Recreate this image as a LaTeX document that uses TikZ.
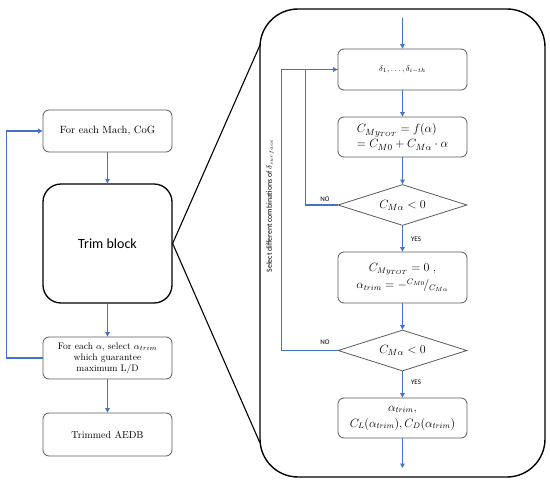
\documentclass[tikz,border=0pt]{standalone}
\usepackage{fontspec}
\setsansfont{Carlito}
\usetikzlibrary{shapes.geometric,arrows.meta}
\definecolor{flowblue}{RGB}{68,114,196}
\definecolor{boxgray}{RGB}{90,90,90}
\begin{document}
\begin{tikzpicture}[x=1pt,y=-1pt,
  box/.style={draw=boxgray,line width=0.8pt,rounded corners=6pt,align=center,inner sep=2pt,minimum width=129pt},
  cond/.style={draw=boxgray,line width=0.8pt,diamond,aspect=3.2,inner sep=0pt,minimum width=129pt,minimum height=41pt},
  flow/.style={draw=flowblue,line width=1.1pt,-{Triangle[length=4.5pt,width=4.5pt]}},
  line/.style={draw=flowblue,line width=1.1pt},
  lbl/.style={font=\sffamily\fontsize{7}{8}\selectfont,inner sep=0pt}]
\useasboundingbox (0,0) rectangle (550,485);
% left column
\node[box,minimum height=42pt,font=\fontsize{10.5}{12}\selectfont] (mach) at (107.5,131) {For each Mach, CoG};
\node[draw=black,line width=1.3pt,rounded corners=18pt,minimum width=129pt,minimum height=119pt,font=\sffamily\fontsize{14}{16}\selectfont] (trim) at (107.5,243.5) {Trim block};
\node[box,minimum height=42pt,font=\fontsize{9.5}{11}\selectfont] (alpha) at (107.5,358) {For each $\alpha$, select $\alpha_{trim}$\\which guarantee\\maximum L/D};
\node[box,minimum height=43pt,font=\fontsize{10}{12}\selectfont] (aedb) at (107.5,434.5) {Trimmed AEDB};
\draw[flow] (mach.south) -- (trim.north);
\draw[flow] (trim.south) -- (alpha.north);
\draw[flow] (alpha.south) -- (aedb.north);
\draw[flow] (alpha.west) -- ++(-36,0) |- (mach.west);
% zoom box
\node[draw=black,line width=1.4pt,rounded corners=38pt,minimum width=285pt,minimum height=468pt] (big) at (402.5,243) {};
\coordinate (bt) at (260,45);
\coordinate (bb) at (260,443);
\draw[black,line width=1.1pt] (bt) -- (trim.east) -- (bb);
% right column
\coordinate (start) at (402.5,18);
\node[box,minimum height=41pt,font=\fontsize{8}{10}\selectfont] (delta) at (402.5,69.5) {$\delta_1,\ldots,\delta_{i-th}$};
\node[box,minimum height=40pt,align=left,font=\fontsize{12.5}{15}\selectfont] (cm) at (402.5,137) {$C_{My_{TOT}}=f(\alpha)$\\$=C_{M0}+C_{M\alpha}\cdot\alpha$\hspace{14pt}};
\node[cond,font=\fontsize{13}{15}\selectfont] (d1) at (402.5,205) {$C_{M\alpha}<0$};
\node[box,minimum height=51pt,font=\fontsize{12}{17}\selectfont] (trimeq) at (402.5,277.5) {$C_{My_{TOT}}=0\;,$\\$\alpha_{trim}=-{}^{C_{M0}}\!/_{C_{M\alpha}}$};
\node[cond,font=\fontsize{13}{15}\selectfont] (d2) at (402.5,350.5) {$C_{M\alpha}<0$};
\node[box,minimum height=40pt,font=\fontsize{12}{16}\selectfont] (res) at (402.5,418) {$\alpha_{trim},$\\$C_L(\alpha_{trim}),C_D(\alpha_{trim})$};
\coordinate (stop) at (402.5,468);
\draw[flow] (start) -- (delta.north);
\draw[flow] (delta.south) -- (cm.north);
\draw[flow] (cm.south) -- (d1.north);
\draw[flow] (d1.south) -- (trimeq.north);
\draw[flow] (trimeq.south) -- (d2.north);
\draw[flow] (d2.south) -- (res.north);
\draw[flow] (res.south) -- (stop);
\draw[line] (d1.west) -- ++(-32,0) |- (delta.west);
\draw[flow] (d2.west) -- ++(-56,0) |- (delta.west);
\node[lbl] (no1) at (325,199) {NO};
\node[lbl] (no2) at (325,342) {NO};
\node[lbl] (yes1) at (416,239) {YES};
\node[lbl] (yes2) at (416,382) {YES};
\node[rotate=90,font=\sffamily\fontsize{7.8}{10}\selectfont,inner sep=0pt] (sel) at (270,206) {Select different combinations of $\delta_{surface}$};
\end{tikzpicture}
\end{document}
